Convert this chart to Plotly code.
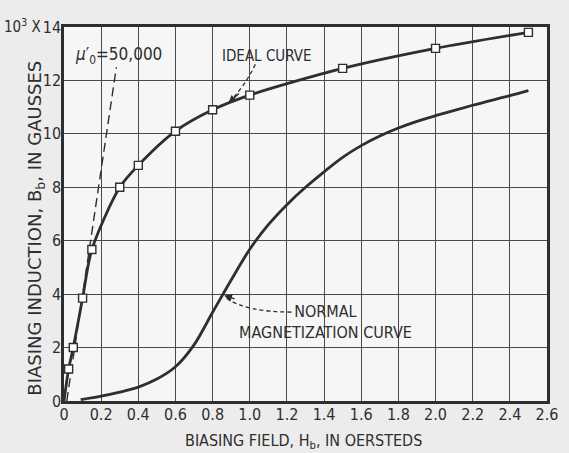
import plotly.graph_objects as go

# ---- data ----
ideal_h = [0.0, 0.025, 0.05, 0.1, 0.15, 0.3, 0.4, 0.6, 0.8, 1.0, 1.5, 2.0, 2.5]
ideal_b = [0.0, 1.2, 2.0, 3.85, 5.67, 8.0, 8.82, 10.1, 10.9, 11.45, 12.45, 13.2, 13.8]
ideal_marker = [False, True, True, True, True, True, True, True, True, True, True, True, True]

normal_h = [0.09, 0.2, 0.3, 0.4, 0.5, 0.6, 0.7, 0.8, 0.9, 1.0, 1.1, 1.2, 1.3, 1.4, 1.5,
            1.6, 1.7, 1.8, 1.9, 2.0, 2.2, 2.4, 2.5]
normal_b = [0.05, 0.18, 0.33, 0.52, 0.82, 1.28, 2.1, 3.32, 4.53, 5.68, 6.6, 7.35, 8.0, 8.58, 9.12,
            9.56, 9.92, 10.22, 10.47, 10.68, 11.07, 11.43, 11.62]

mu_h = [0.015, 0.282]
mu_b = [0.0, 12.5]

x_ticks = [0, 0.2, 0.4, 0.6, 0.8, 1.0, 1.2, 1.4, 1.6, 1.8, 2.0, 2.2, 2.4, 2.6]
x_ticktext = ["0", "0.2", "0.4", "0.6", "0.8", "1.0", "1.2", "1.4", "1.6", "1.8", "2.0", "2.2", "2.4", "2.6"]
y_ticks = [0, 2, 4, 6, 8, 10, 12, 14]
y_ticktext = ["0", "2", "4", "6", "8", "10", "12", "14"]

INK = "#2e2e2e"
NARROW = "Liberation Sans Narrow, DejaVu Sans Condensed, Arial Narrow, sans-serif"

fig = go.Figure()

fig.add_trace(go.Scatter(x=mu_h, y=mu_b, mode="lines",
                         line=dict(color=INK, width=1.4, dash="9px,5px"),
                         hoverinfo="skip"))
fig.add_trace(go.Scatter(x=ideal_h, y=ideal_b, mode="lines",
                         line=dict(color=INK, width=2.8, shape="spline", smoothing=0.8),
                         hoverinfo="skip"))
fig.add_trace(go.Scatter(x=[h for h, m in zip(ideal_h, ideal_marker) if m],
                         y=[b for b, m in zip(ideal_b, ideal_marker) if m],
                         mode="markers",
                         marker=dict(symbol="square", size=8, color="white",
                                     line=dict(color=INK, width=1.4))))
fig.add_trace(go.Scatter(x=normal_h, y=normal_b, mode="lines",
                         line=dict(color=INK, width=2.8, shape="spline", smoothing=0.9),
                         hoverinfo="skip"))

# dashed leader lines
fig.add_shape(type="path", xref="x", yref="y",
              path="M 1.03,12.6 Q 0.97,11.75 0.89,11.2",
              line=dict(color=INK, width=1.3, dash="4px,3px"))
fig.add_shape(type="path", xref="x", yref="y",
              path="M 1.225,3.33 Q 0.98,3.33 0.875,3.85",
              line=dict(color=INK, width=1.3, dash="4px,3px"))

anns = [
    dict(x=0.885, y=11.15, ax=12, ay=-11, text="", showarrow=True, arrowhead=2,
         arrowsize=1.2, arrowwidth=1.3, arrowcolor=INK, standoff=0),
    dict(x=0.862, y=3.95, ax=12, ay=4, text="", showarrow=True, arrowhead=2,
         arrowsize=1.2, arrowwidth=1.3, arrowcolor=INK, standoff=0),
    dict(x=1.095, y=12.92, text="IDEAL CURVE", showarrow=False,
         font=dict(family=NARROW, size=15, color=INK)),
    dict(x=0.295, y=12.92, text="<i>μ</i>′<sub>0</sub>=50,000", showarrow=False,
         font=dict(family=NARROW, size=17, color=INK)),
    dict(x=1.405, y=2.96, text="NORMAL<br>MAGNETIZATION CURVE", showarrow=False,
         font=dict(family=NARROW, size=16, color=INK), align="center"),
    dict(xref="paper", yref="paper", x=0.495, y=-0.108, yanchor="middle",
         text="BIASING FIELD, H<sub>b</sub>, IN OERSTEDS", showarrow=False,
         font=dict(family=NARROW, size=16, color=INK)),
    dict(xref="paper", yref="paper", x=-0.057, y=0.462, textangle=-90,
         xanchor="center", yanchor="middle",
         text="BIASING INDUCTION, B<sub>b</sub>, IN GAUSSES", showarrow=False,
         font=dict(family="DejaVu Sans, sans-serif", size=18, color=INK)),
    dict(xref="paper", yref="paper", x=-0.0425, y=1.003, xanchor="right", yanchor="middle",
         text="10<sup>3</sup> X", showarrow=False,
         font=dict(family=NARROW, size=15, color=INK)),
]
for a in anns:
    fig.add_annotation(**a)

fig.update_layout(
    width=569, height=453,
    margin=dict(l=64, r=11, t=27, b=52),
    paper_bgcolor="#ececec", plot_bgcolor="#f6f6f6",
    showlegend=False,
    font=dict(family=NARROW, size=15, color=INK),
)
fig.update_xaxes(range=[0, 2.6], tickvals=x_ticks, ticktext=x_ticktext,
                 showgrid=True, gridcolor="#4a4a4a", gridwidth=1.3,
                 showline=True, mirror=True, linecolor=INK, linewidth=2.5,
                 zeroline=False, ticks="", ticklabelstandoff=-3,
                 tickfont=dict(family=NARROW, size=16, color=INK))
fig.update_yaxes(range=[0, 14], tickvals=y_ticks, ticktext=y_ticktext,
                 showgrid=True, gridcolor="#4a4a4a", gridwidth=1.3,
                 showline=True, mirror=True, linecolor=INK, linewidth=2.5,
                 zeroline=False, ticks="", ticklabelstandoff=-3,
                 tickfont=dict(family=NARROW, size=16, color=INK))

fig.write_html("out.html")
